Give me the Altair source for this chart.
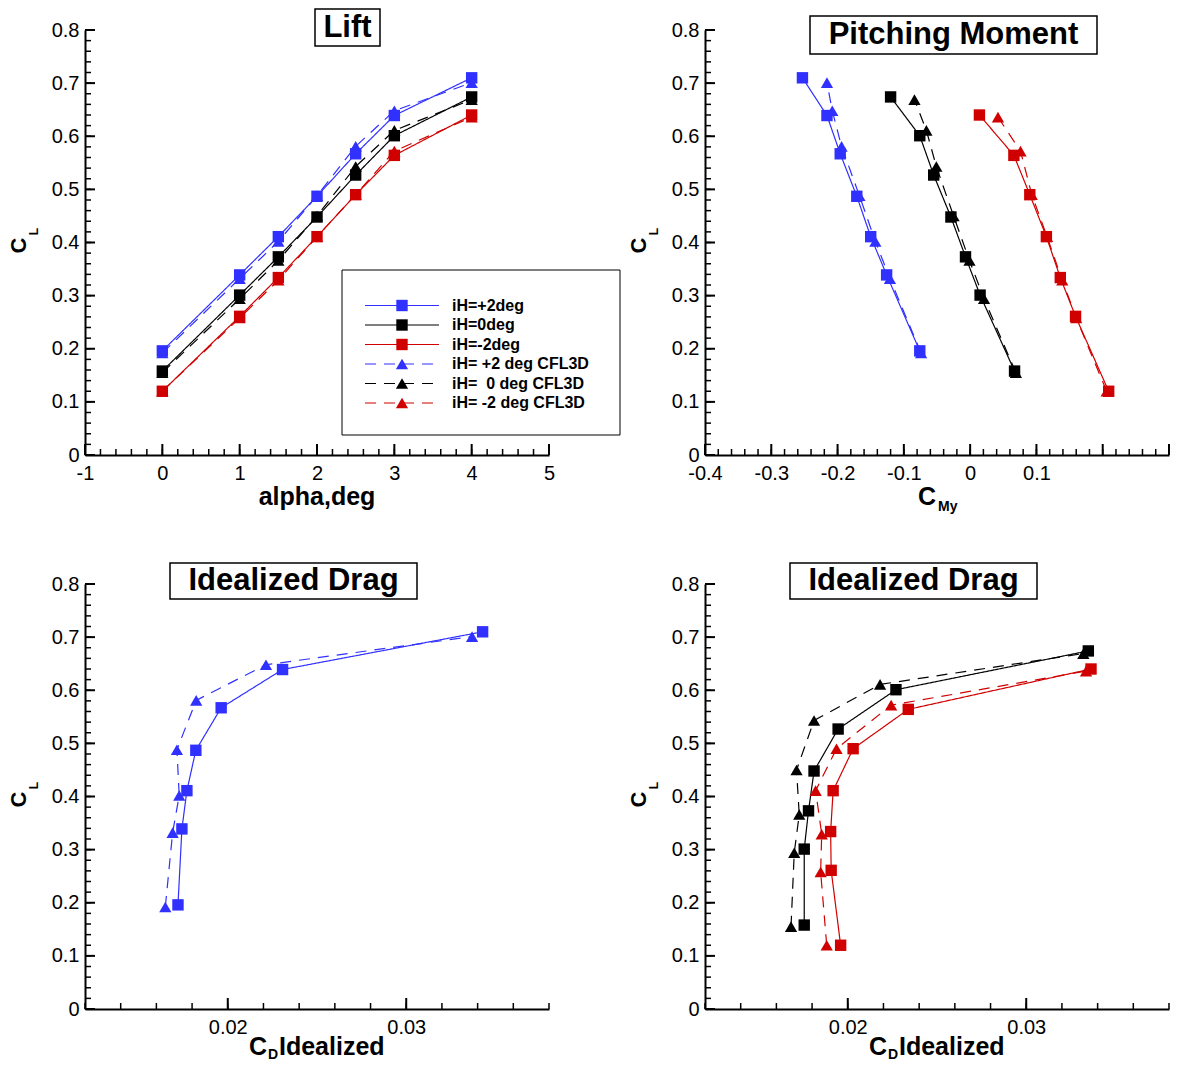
import altair as alt
import numpy as np
import pandas as pd

FONT = "Arial, Liberation Sans, Helvetica, sans-serif"
BLUE = "#3030ff"
RED = "#d10000"
BLACK = "#000000"

# ---------------- data ----------------
series_names = ["iH=+2deg", "iH=0deg", "iH=-2deg",
                "iH= +2 deg CFL3D", "iH=\u00a0 0 deg CFL3D", "iH= -2 deg CFL3D"]
series_colors = [BLUE, BLACK, RED, BLUE, BLACK, RED]
series_kinds = ["exp", "exp", "exp", "cfd", "cfd", "cfd"]

alpha_deg = [0, 1, 1.5, 2, 2.5, 3, 4]

cl_p2 = [0.196, 0.339, 0.411, 0.487, 0.567, 0.639, 0.710]
cl_0 = [0.158, 0.301, 0.373, 0.448, 0.527, 0.601, 0.674]
cl_m2 = [0.120, 0.261, 0.334, 0.411, 0.490, 0.564, 0.640]
cl_p2_cfd = [0.192, 0.332, 0.402, 0.488, 0.581, 0.648, 0.701]
cl_0_cfd = [0.155, 0.294, 0.366, 0.450, 0.543, 0.611, 0.669]
cl_m2_cfd = [0.120, 0.258, 0.329, 0.411, 0.490, 0.572, 0.636]

cmy_p2 = [-0.076, -0.126, -0.150, -0.171, -0.196, -0.216, -0.253]
cmy_0 = [0.067, 0.015, -0.007, -0.029, -0.055, -0.076, -0.120]
cmy_m2 = [0.209, 0.159, 0.136, 0.115, 0.090, 0.066, 0.014]
cmy_p2_cfd = [-0.074, -0.121, -0.143, -0.167, -0.194, -0.208, -0.216]
cmy_0_cfd = [0.069, 0.021, -0.001, -0.025, -0.051, -0.066, -0.084]
cmy_m2_cfd = [0.206, 0.160, 0.139, 0.116, 0.093, 0.076, 0.042]

cd_p2 = [0.01721, 0.01743, 0.01771, 0.01821, 0.01963, 0.02307, 0.03428]
cd_0 = [0.01756, 0.01756, 0.01780, 0.01811, 0.01946, 0.02270, 0.03348]
cd_m2 = [0.01960, 0.01907, 0.01904, 0.01918, 0.02030, 0.02339, 0.03363]
cd_p2_cfd = [0.01650, 0.01691, 0.01728, 0.01715, 0.01823, 0.02214, 0.03369]
cd_0_cfd = [0.01682, 0.01700, 0.01728, 0.01713, 0.01811, 0.02181, 0.03320]
cd_m2_cfd = [0.01882, 0.01848, 0.01854, 0.01820, 0.01937, 0.02243, 0.03335]

cl_all = [cl_p2, cl_0, cl_m2, cl_p2_cfd, cl_0_cfd, cl_m2_cfd]
cmy_all = [cmy_p2, cmy_0, cmy_m2, cmy_p2_cfd, cmy_0_cfd, cmy_m2_cfd]
cd_all = [cd_p2, cd_0, cd_m2, cd_p2_cfd, cd_0_cfd, cd_m2_cfd]

y_major = [round(v, 2) for v in np.arange(0, 0.801, 0.1)]
y_minor = [round(v, 3) for v in np.arange(0, 0.801, 0.02)]

W, H = 464, 425


def table(xs_list, idx):
    rows = []
    for k in idx:
        for i, (xv, yv) in enumerate(zip(xs_list[k], cl_all[k])):
            rows.append({"x": xv, "y": yv, "i": i, "series": series_names[k],
                         "kind": series_kinds[k]})
    return pd.DataFrame(rows)


one = pd.DataFrame({"k": [0]})


def ptext(txt, x, y, size, angle=0, align="center", baseline="middle", weight="bold"):
    return alt.Chart(one).mark_text(
        text=txt, fontSize=size, fontWeight=weight, font=FONT, angle=angle,
        align=align, baseline=baseline, color="black"
    ).encode(x=alt.value(x), y=alt.value(y))


def make_panel(df, xdom, xlab, xmaj, xmin, title, box, tcenter, xtitle, legend=False):
    sx = alt.Scale(domain=xdom, nice=False, zero=False)
    sy = alt.Scale(domain=[0, 0.8], nice=False, zero=False)
    ax = alt.Axis(values=xlab, labelExpr="'' + datum.value", title=None, ticks=False, grid=False,
                  labelFlush=False, labelOverlap=False, labelPadding=8,
                  domainColor="black", domainWidth=2, labelFontSize=20,
                  labelFont=FONT, labelColor="black")
    ay = alt.Axis(values=y_major, labelExpr="datum.value == 0 ? '0' : format(datum.value, '.1f')",
                  title=None, ticks=False, grid=False, labelFlush=False, labelOverlap=False,
                  labelPadding=6, domainColor="black", domainWidth=2, labelFontSize=20,
                  labelFont=FONT, labelColor="black")

    def X(f):
        return alt.X(f"{f}:Q", scale=sx, axis=ax)

    def Y(f):
        return alt.Y(f"{f}:Q", scale=sy, axis=ay)

    color = alt.Color("series:N", scale=alt.Scale(domain=series_names, range=series_colors), legend=None)
    dash = alt.StrokeDash("kind:N", scale=alt.Scale(domain=["exp", "cfd"], range=[[1, 0], [11, 8]]), legend=None)
    shape = alt.Shape("kind:N", scale=alt.Scale(domain=["exp", "cfd"], range=["square", "triangle-up"]), legend=None)
    size = alt.Size("kind:N", scale=alt.Scale(domain=["exp", "cfd"], range=[130, 150]), legend=None)

    layers = []
    # tick marks (inward)
    layers.append(alt.Chart(pd.DataFrame({"y": y_minor})).mark_rule(color="black", strokeWidth=1.5)
                  .encode(y=Y("y"), x=alt.value(0), x2=alt.value(6)))
    layers.append(alt.Chart(pd.DataFrame({"y": y_major})).mark_rule(color="black", strokeWidth=2)
                  .encode(y=Y("y"), x=alt.value(0), x2=alt.value(10)))
    layers.append(alt.Chart(pd.DataFrame({"x": xmin})).mark_rule(color="black", strokeWidth=1.5)
                  .encode(x=X("x"), y=alt.value(H), y2=alt.value(H - 6)))
    layers.append(alt.Chart(pd.DataFrame({"x": xmaj})).mark_rule(color="black", strokeWidth=2)
                  .encode(x=X("x"), y=alt.value(H), y2=alt.value(H - 11)))

    # data
    layers.append(alt.Chart(df).mark_line(strokeWidth=1.2).encode(
        x=X("x"), y=Y("y"), color=color, strokeDash=dash, detail="series:N", order="i:Q"))
    layers.append(alt.Chart(df).mark_point(filled=True, opacity=1, strokeWidth=0).encode(
        x=X("x"), y=Y("y"), color=color, shape=shape, size=size))

    # legend
    if legend:
        layers.append(alt.Chart(one).mark_rect(fill="white", stroke="black", strokeWidth=1).encode(
            x=alt.value(257), x2=alt.value(535), y=alt.value(240), y2=alt.value(405)))
        ld = pd.DataFrame({"series": series_names, "kind": series_kinds, "i": range(6)})
        ux = (xdom[1] - xdom[0]) / W
        uy = 0.8 / H
        ld["ly"] = (H - (275.5 + ld["i"] * 19.5)) * uy
        ld["lx1"] = xdom[0] + 280 * ux
        ld["lx2"] = xdom[0] + 354 * ux
        ld["lxm"] = xdom[0] + 317 * ux
        ld["ltx"] = xdom[0] + 367 * ux
        layers.append(alt.Chart(ld).mark_rule(strokeWidth=1.2).encode(
            x=X("lx1"), x2=alt.X2("lx2"), y=Y("ly"), color=color, strokeDash=dash))
        layers.append(alt.Chart(ld).mark_point(filled=True, opacity=1, strokeWidth=0).encode(
            x=X("lxm"), y=Y("ly"), color=color, shape=shape, size=size))
        layers.append(alt.Chart(ld).mark_text(align="left", baseline="middle", fontSize=16,
                                              fontWeight="bold", font=FONT, color="black").encode(
            x=X("ltx"), y=Y("ly"), text="series:N"))

    # title box
    layers.append(alt.Chart(one).mark_rect(fill="white", stroke="black", strokeWidth=1.5).encode(
        x=alt.value(box[0]), x2=alt.value(box[1]), y=alt.value(box[2]), y2=alt.value(box[3])))
    layers.append(ptext(title, tcenter[0], tcenter[1], 31))

    # y title C_L
    layers.append(ptext("C", -66, 215.5, 22, angle=270))
    layers.append(ptext("L", -51, 201.5, 12, angle=270))
    # x title
    layers.extend(xtitle)

    return alt.layer(*layers).properties(width=W, height=H)


# panel 1: Lift
p1 = make_panel(
    table([alpha_deg] * 6, range(6)), [-1, 5], list(range(-1, 6)),
    list(range(-1, 6)), [round(v, 2) for v in np.arange(-1, 5.001, 0.2)],
    "Lift", (230, 295, -21, 16), (262.5, -2.5),
    [ptext("alpha,deg", 232, 467, 25)], legend=True)

# panel 2: Pitching moment
p2 = make_panel(
    table(cmy_all, range(6)), [-0.4, 0.3],
    [round(v, 2) for v in np.arange(-0.4, 0.101, 0.1)],
    [round(v, 2) for v in np.arange(-0.4, 0.301, 0.1)],
    [round(v, 3) for v in np.arange(-0.4, 0.301, 0.02)],
    "Pitching Moment", (105, 392, -14, 24), (248.5, 5),
    [ptext("C", 222, 467, 25), ptext("My", 233, 477, 14, align="left")])

cd_ticks_minor = [round(v, 4) for v in np.arange(0.012, 0.0381, 0.002)]
cd_xtitle = [ptext("C", 173, 463, 25), ptext("D", 188, 471, 14),
             ptext("Idealized", 194, 463, 25, align="left")]

p3 = make_panel(
    table(cd_all, [0, 3]), [0.012, 0.038], [0.02, 0.03], [0.02, 0.03], cd_ticks_minor,
    "Idealized Drag", (85, 332, -21, 15), (208.5, -3), cd_xtitle)

p4 = make_panel(
    table(cd_all, [1, 2, 4, 5]), [0.012, 0.038], [0.02, 0.03], [0.02, 0.03], cd_ticks_minor,
    "Idealized Drag", (85, 332, -21, 15), (208.5, -3), cd_xtitle)

chart = alt.concat(p1, p2, p3, p4, columns=2, spacing={"row": 129, "column": 156},
                   bounds="flush").properties(
    padding={"left": 0, "top": 0, "right": 0, "bottom": 0}
).configure_view(stroke=None)

chart.save("out.html", embed_options={"renderer": "svg", "actions": False})
